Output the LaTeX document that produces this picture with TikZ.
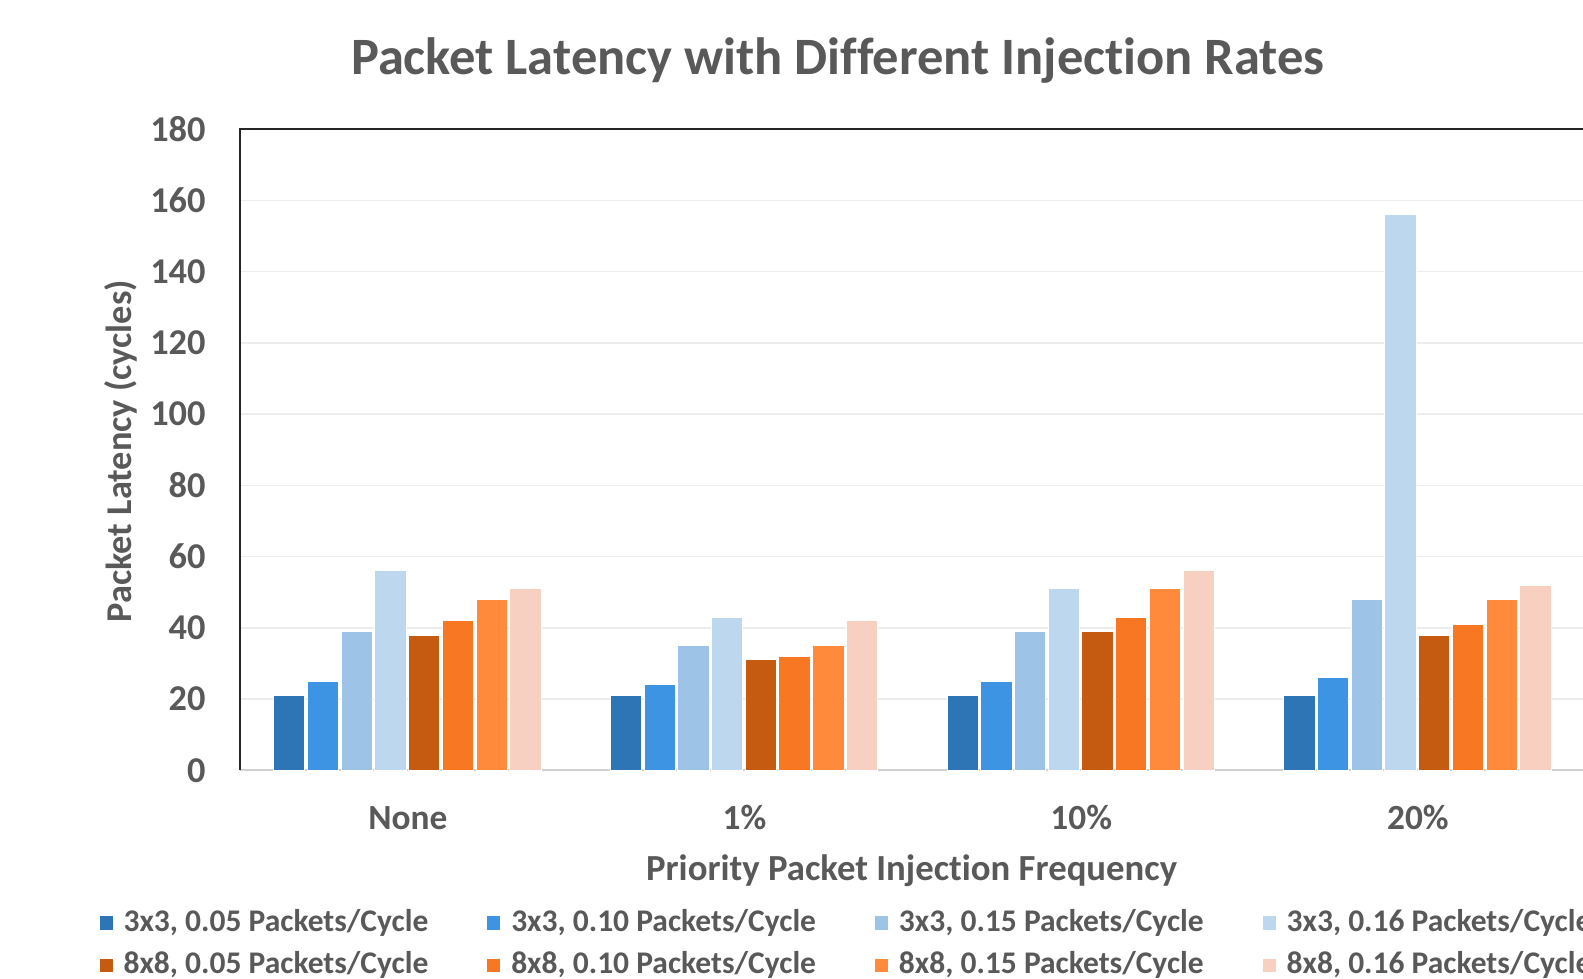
\documentclass[tikz,border=0pt]{standalone}
\usepackage{fontspec}
\setmainfont[Ligatures=NoCommon]{Carlito}
\definecolor{axisgray}{HTML}{595959}
\definecolor{gridgray}{HTML}{EDEDED}
\definecolor{basegray}{HTML}{D0D0D0}
\definecolor{c0}{HTML}{2E75B6}
\definecolor{c1}{HTML}{3D94E3}
\definecolor{c2}{HTML}{9DC3E6}
\definecolor{c3}{HTML}{BDD7EE}
\definecolor{c4}{HTML}{C55A11}
\definecolor{c5}{HTML}{F87722}
\definecolor{c6}{HTML}{FF8A3C}
\definecolor{c7}{HTML}{F7D0C1}
\newcommand{\fsz}[1]{\fontsize{#1}{#1}\selectfont\bfseries}
\begin{document}
\begin{tikzpicture}[x=0.5pt,y=0.5pt,
  lbl/.style={text=axisgray, inner sep=0pt},
  bar/.style={draw=white, line width=0.4pt},
  swatch/.style={draw=white, line width=0.3pt}]
\useasboundingbox (0,0) rectangle (1568,969);
\clip (0,0) rectangle (1568,969);

% title
\node[lbl, font=\fsz{26pt}] (title) at (830,909) {Packet Latency with Different Injection Rates};

% gridlines
\foreach \v in {20,40,...,160}
  \draw[gridgray, line width=0.8pt] (238,206+3.528*\v) -- (1568,206+3.528*\v);
\draw[basegray, line width=0.8pt] (238,206) -- (1568,206);

% plot frame (top and left)
\draw[black!85, line width=0.8pt] (1568,841) -- (238,841) -- (238,206);

% y tick labels
\foreach \v in {0,20,...,180}
  \node[lbl, anchor=east, font=\fsz{18pt}] (t\v) at (204,206+3.528*\v) {\v};

% axis titles
\node[lbl, rotate=90, font=\fsz{18pt}] (ylabel) at (120,522) {Packet Latency (cycles)};
\node[lbl, font=\fsz{18.2pt}] (xlabel) at (903,107) {Priority Packet Injection Frequency};

% category labels
\foreach \c [count=\k from 0] in {None,1\%,10\%,20\%}
  \node[lbl, font=\fsz{17.5pt}] (cat\k) at (404+333.5*\k,159) {\c};

% bars, one group per category
\foreach \h [count=\i from 0] in {21,25,39,56,38,42,48,51}
  \filldraw[bar, fill=c\i] (404-133+33.4*\i,206) rectangle ++(31,3.528*\h);
\foreach \h [count=\i from 0] in {21,24,35,43,31,32,35,42}
  \filldraw[bar, fill=c\i] (737.5-133+33.4*\i,206) rectangle ++(31,3.528*\h);
\foreach \h [count=\i from 0] in {21,25,39,51,39,43,51,56}
  \filldraw[bar, fill=c\i] (1071-133+33.4*\i,206) rectangle ++(31,3.528*\h);
\foreach \h [count=\i from 0] in {21,26,48,156,38,41,48,52}
  \filldraw[bar, fill=c\i] (1404.5-133+33.4*\i,206) rectangle ++(31,3.528*\h);

% legend
\foreach \t [count=\i from 0] in {3x3, 8x8}{
  \foreach \r [count=\j from 0] in {0.05,0.10,0.15,0.16}{
    \pgfmathtruncatemacro{\ci}{4*\i+\j}
    \filldraw[swatch, fill=c\ci] (98+384*\j,48-42*\i) rectangle ++(14,14);
    \node[lbl, anchor=west, font=\fsz{15.6pt}] (leg\ci) at (122+384*\j,55-42*\i) {\t, \r{} Packets/Cycle};
  }
}
\end{tikzpicture}
\end{document}
